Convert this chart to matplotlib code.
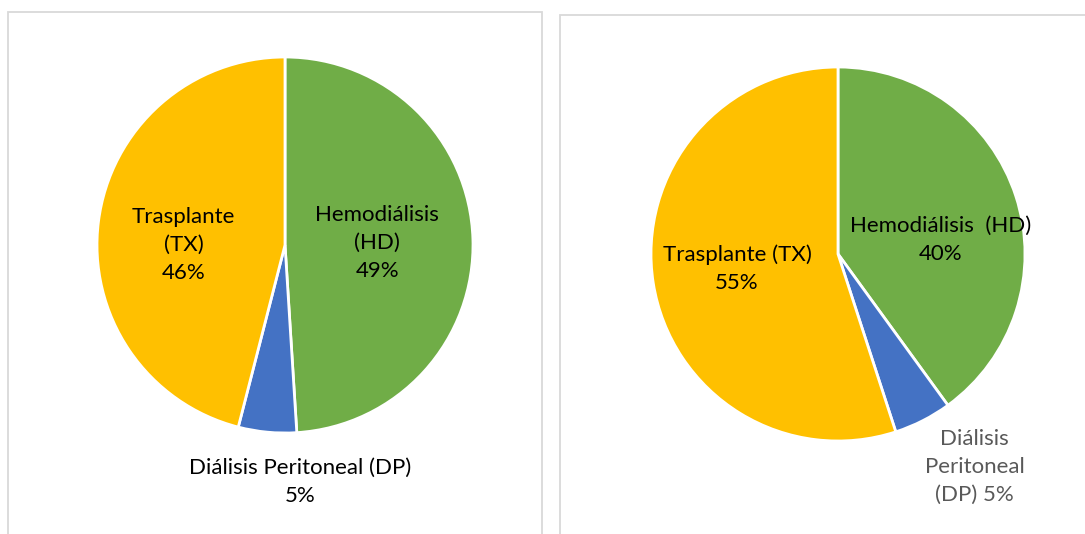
import matplotlib.pyplot as plt
from matplotlib.patches import Rectangle

# datos
categorias = ["Hemodiálisis (HD)", "Diálisis Peritoneal (DP)", "Trasplante (TX)"]
valores_izq = [49, 5, 46]
valores_der = [40, 5, 55]
colores = ["#70AD47", "#4472C4", "#FFC000"]

etiquetas_izq = ["Hemodiálisis\n(HD)\n49%", "Diálisis Peritoneal (DP)\n5%", "Trasplante\n(TX)\n46%"]
etiquetas_der = ["Hemodiálisis  (HD)\n40%", "Diálisis\nPeritoneal\n(DP) 5%", "Trasplante (TX)\n55%"]

plt.rcParams['font.family'] = ['Lato', 'DejaVu Sans']

W, H = 1085, 534
fig = plt.figure(figsize=(W / 100, H / 100), dpi=100)

# marcos de los graficos (abiertos por abajo)
fig.patches.append(Rectangle((8 / W, -0.05), (542 - 8) / W, (H - 12) / H + 0.05, transform=fig.transFigure,
                             fill=False, edgecolor="#D9D9D9", linewidth=1.3))
fig.patches.append(Rectangle((560 / W, -0.05), (W + 5 - 560) / W, (H - 15) / H + 0.05, transform=fig.transFigure,
                             fill=False, edgecolor="#D9D9D9", linewidth=1.3))


def pastel(cx, cy, r, valores, etiquetas, posiciones, colores_txt):
    ax = fig.add_axes([(cx - r) / W, (H - cy - r) / H, 2 * r / W, 2 * r / H])
    ax.pie(valores, colors=colores, startangle=90, counterclock=False,
           wedgeprops=dict(edgecolor="white", linewidth=2))
    ax.set_xlim(-1, 1)
    ax.set_ylim(-1, 1)
    ax.set_aspect("equal")
    ax.axis("off")
    for txt, (x, y), c in zip(etiquetas, posiciones, colores_txt):
        ax.text(x, y, txt, ha="center", va="center", fontsize=16, color=c,
                linespacing=1.5, clip_on=False)


pastel(285, 245, 188, valores_izq, etiquetas_izq,
       [(0.49, 0.01), (0.08, -1.26), (-0.54, 0.0)],
       ["#000000", "#000000", "#000000"])
pastel(838, 254, 187, valores_der, etiquetas_der,
       [(0.55, 0.075), (0.73, -1.14), (-0.54, -0.08)],
       ["#000000", "#595959", "#000000"])

fig.savefig("out.png", dpi=100)
